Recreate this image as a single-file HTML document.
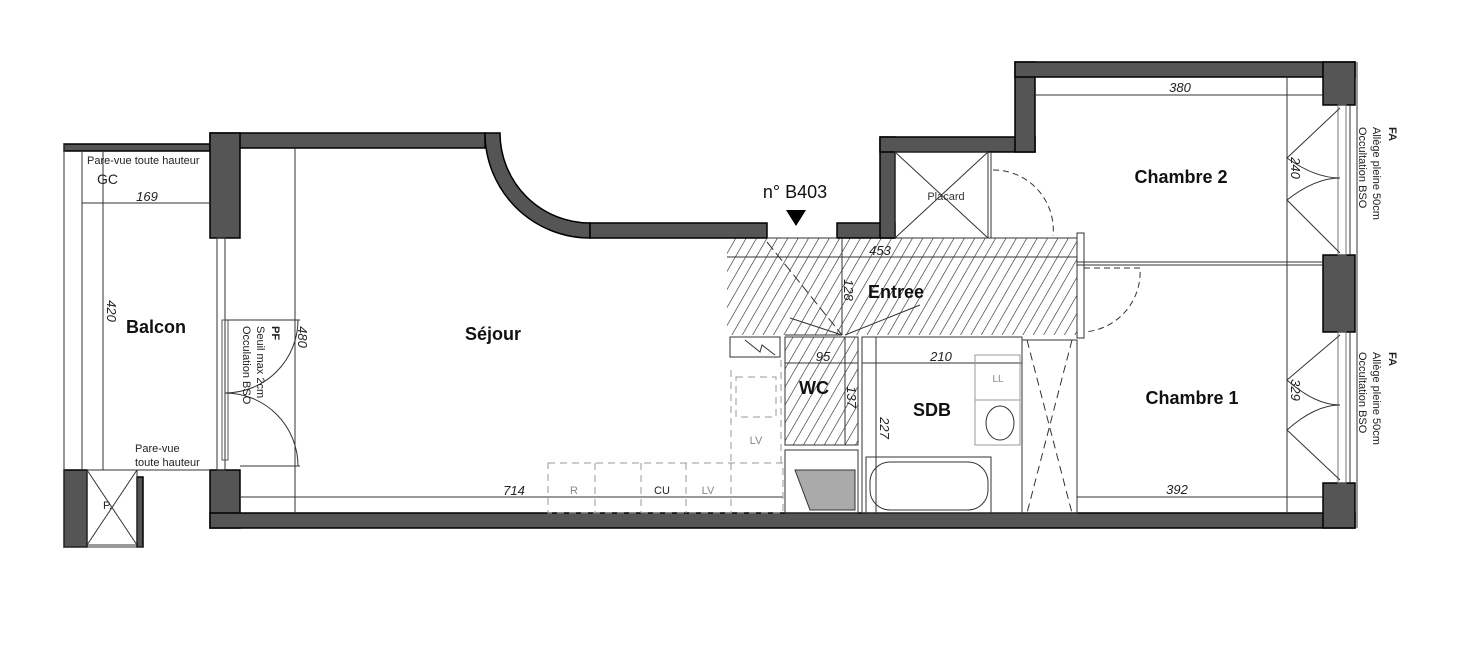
<!DOCTYPE html>
<html><head><meta charset="utf-8"><style>
html,body{margin:0;padding:0;background:#fff;}
svg{display:block;}
text{font-family:"Liberation Sans",sans-serif;}
.b{font-weight:bold;font-size:18px;fill:#111;}
.d{font-style:italic;font-size:13px;fill:#222;}
.s{font-size:11px;fill:#222;}
</style></head><body>
<svg width="1468" height="660" viewBox="0 0 1468 660" xmlns="http://www.w3.org/2000/svg">
<defs>
<pattern id="h" width="9" height="9" patternUnits="userSpaceOnUse" patternTransform="rotate(30)">
<line x1="0" y1="0" x2="0" y2="9" stroke="#222" stroke-width="1.2"/>
</pattern>
</defs>
<rect width="1468" height="660" fill="#fff"/>

<rect x="727" y="238" width="350" height="97" fill="url(#h)"/>
<rect x="785" y="337" width="73" height="108" fill="url(#h)"/>

<g fill="#555" stroke="#000" stroke-width="1.5">
<rect x="64" y="144" width="146" height="7"/>
<rect x="64" y="470" width="23" height="77"/>
<rect x="137" y="477" width="6" height="70"/>
<rect x="210" y="133" width="275" height="15"/>
<rect x="210" y="133" width="30" height="105"/>
<rect x="210" y="470" width="30" height="58"/>
<rect x="210" y="513" width="1145" height="15"/>
<path d="M485,133 A105,105 0 0 0 590,238 L590,223 A90,90 0 0 1 500,133 Z"/>
<rect x="590" y="223" width="177" height="15"/>
<rect x="837" y="223" width="58" height="15"/>
<rect x="880" y="137" width="15" height="101"/>
<rect x="880" y="137" width="155" height="15"/>
<rect x="1015" y="62" width="20" height="90"/>
<rect x="1015" y="62" width="340" height="15"/>
<rect x="1323" y="62" width="32" height="43"/>
<rect x="1323" y="255" width="32" height="77"/>
<rect x="1323" y="483" width="32" height="45"/>
</g>

<g fill="none" stroke="#333" stroke-width="1">
<line x1="64" y1="144" x2="64" y2="547"/>
<line x1="64" y1="547" x2="143" y2="547"/>
<line x1="82" y1="151" x2="82" y2="470"/>
<line x1="87" y1="470" x2="210" y2="470"/>
<rect x="87" y="470" width="50" height="75"/>
<line x1="87" y1="470" x2="137" y2="545"/><line x1="137" y1="470" x2="87" y2="545"/>
<rect x="217" y="238" width="8" height="232"/>
<rect x="222" y="320" width="6" height="140" stroke="#555"/>
<line x1="225" y1="320" x2="300" y2="320"/>
<path d="M225,393 A73,73 0 0 0 298,320"/>
<path d="M225,393 A73,73 0 0 1 298,466"/>
<line x1="240" y1="466" x2="300" y2="466"/>
<line x1="82" y1="203" x2="210" y2="203"/>
<line x1="103" y1="151" x2="103" y2="470"/>
<line x1="295" y1="148" x2="295" y2="513"/>
<line x1="240" y1="497" x2="783" y2="497"/>
<line x1="1035" y1="95" x2="1323" y2="95"/>
<line x1="1077" y1="497" x2="1323" y2="497"/>
<line x1="1287" y1="77" x2="1287" y2="513"/>
<line x1="727" y1="257" x2="1077" y2="257"/>
<line x1="842" y1="238" x2="842" y2="335"/>
<line x1="785" y1="363" x2="858" y2="363"/>
<line x1="845" y1="337" x2="845" y2="445"/>
<line x1="862" y1="363" x2="1022" y2="363"/>
<line x1="876" y1="337" x2="876" y2="513"/>
<rect x="895" y="152" width="93" height="86"/>
<line x1="895" y1="152" x2="988" y2="238"/><line x1="988" y1="152" x2="895" y2="238"/>
<line x1="991" y1="152" x2="991" y2="238"/>
<line x1="988" y1="238" x2="1077" y2="238"/>
<path d="M993,170 A60,60 0 0 1 1053,236" stroke-dasharray="6,4"/>
<line x1="767" y1="238" x2="837" y2="238"/>
<path d="M767,242 L842,335" stroke-dasharray="10,4"/>
<path d="M785,335 L842,335 M790,318 L842,335 M845,335 L920,305"/>
<rect x="1077" y="233" width="7" height="105"/>
<line x1="1077" y1="262" x2="1323" y2="262"/><line x1="1077" y1="265" x2="1323" y2="265"/>
<path d="M1084,268 L1140,268 A60,60 0 0 1 1084,332" stroke-dasharray="6,4"/>
<rect x="730" y="337" width="50" height="20"/>
<path d="M745,340 L760,352 L762,345 L775,355"/>
<rect x="785" y="337" width="73" height="108"/>
<rect x="785" y="450" width="73" height="63"/>
<path d="M795,470 L855,470 L855,510 L810,510 Z" fill="#aaa"/>
<rect x="862" y="337" width="160" height="176"/>
<rect x="866" y="457" width="125" height="56"/>
<rect x="870" y="462" width="118" height="48" rx="20"/>
<rect x="975" y="355" width="45" height="45" stroke="#999"/>
<rect x="975" y="400" width="45" height="45" stroke="#999"/>
<ellipse cx="1000" cy="423" rx="14" ry="17"/>
<rect x="1022" y="340" width="55" height="173"/>
<path d="M1027,340 L1072,513 M1072,340 L1027,513" stroke-dasharray="8,5"/>
<g stroke="#999" stroke-dasharray="7,5">
<rect x="548" y="463" width="235" height="50"/>
<line x1="595" y1="463" x2="595" y2="513"/><line x1="641" y1="463" x2="641" y2="513"/>
<line x1="686" y1="463" x2="686" y2="513"/><line x1="731" y1="463" x2="731" y2="513"/>
<line x1="731" y1="370" x2="731" y2="463"/><line x1="781" y1="360" x2="781" y2="463"/>
<rect x="736" y="377" width="40" height="40"/>
</g>
<rect x="1338" y="105" width="8" height="150" stroke="#777"/>
<rect x="1338" y="332" width="8" height="151" stroke="#777"/>
<line x1="1350" y1="105" x2="1350" y2="255"/><line x1="1350" y1="332" x2="1350" y2="483"/>
<line x1="1357" y1="62" x2="1357" y2="528"/>
<path d="M1340,108 L1287,158 Q1315,178 1340,178 M1340,178 Q1315,178 1287,200 L1340,253"/>
<path d="M1340,335 L1287,380 Q1315,405 1340,405 M1340,405 Q1315,405 1287,430 L1340,480"/>
</g>

<polygon points="786,210 806,210 796,226" fill="#000"/>

<text class="b" x="493" y="340" text-anchor="middle">Séjour</text>
<text class="b" x="156" y="333" text-anchor="middle">Balcon</text>
<text class="b" x="896" y="298" text-anchor="middle">Entree</text>
<text class="b" x="814" y="394" text-anchor="middle">WC</text>
<text class="b" x="932" y="416" text-anchor="middle">SDB</text>
<text class="b" x="1181" y="183" text-anchor="middle">Chambre 2</text>
<text class="b" x="1192" y="404" text-anchor="middle">Chambre 1</text>
<text x="795" y="198" text-anchor="middle" font-size="18" fill="#111">n° B403</text>
<text class="s" x="87" y="164">Pare-vue toute hauteur</text>
<text x="97" y="184" font-size="14" fill="#222">GC</text>
<text class="s" x="135" y="452">Pare-vue</text>
<text class="s" x="135" y="466">toute hauteur</text>
<text class="s" x="103" y="509" font-size="9">P.</text>
<text x="946" y="200" font-size="11" fill="#333" text-anchor="middle">Placard</text>
<text class="d" x="147" y="201" text-anchor="middle">169</text>
<text class="d" x="514" y="495" text-anchor="middle">714</text>
<text class="d" x="1180" y="92" text-anchor="middle">380</text>
<text class="d" x="1177" y="494" text-anchor="middle">392</text>
<text class="d" x="880" y="255" text-anchor="middle">453</text>
<text class="d" x="941" y="361" text-anchor="middle">210</text>
<text class="d" x="823" y="361" text-anchor="middle">95</text>
<text x="574" y="494" font-size="11" fill="#888" text-anchor="middle">R</text>
<text x="662" y="494" font-size="11" fill="#222" text-anchor="middle">CU</text>
<text x="708" y="494" font-size="11" fill="#888" text-anchor="middle">LV</text>
<text x="756" y="444" font-size="11" fill="#888" text-anchor="middle">LV</text>
<text x="998" y="382" font-size="10" fill="#888" text-anchor="middle">LL</text>
<g class="d">
<text transform="translate(107,311) rotate(90)" text-anchor="middle">420</text>
<text transform="translate(298,337) rotate(90)" text-anchor="middle">480</text>
<text transform="translate(844,290) rotate(90)" text-anchor="middle">128</text>
<text transform="translate(847,397) rotate(90)" text-anchor="middle">137</text>
<text transform="translate(880,428) rotate(90)" text-anchor="middle">227</text>
<text transform="translate(1291,168) rotate(90)" text-anchor="middle">240</text>
<text transform="translate(1291,390) rotate(90)" text-anchor="middle">329</text>
</g>
<g font-size="11" fill="#222">
<text transform="translate(272,326) rotate(90)" font-weight="bold">PF</text>
<text transform="translate(257,326) rotate(90)">Seuil max  2cm</text>
<text transform="translate(243,326) rotate(90)">Occulation  BSO</text>
<text transform="translate(1389,127) rotate(90)" font-weight="bold">FA</text>
<text transform="translate(1373,127) rotate(90)">Allège pleine  50cm</text>
<text transform="translate(1359,127) rotate(90)">Occultation    BSO</text>
<text transform="translate(1389,352) rotate(90)" font-weight="bold">FA</text>
<text transform="translate(1373,352) rotate(90)">Allège pleine  50cm</text>
<text transform="translate(1359,352) rotate(90)">Occultation    BSO</text>
</g>
</svg>
</body></html>
